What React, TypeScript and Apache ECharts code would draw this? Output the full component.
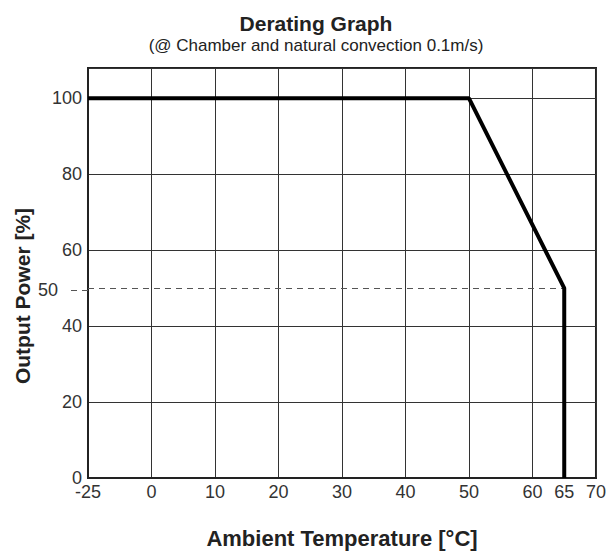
import React, { useEffect, useRef } from "react";
import * as echarts from "echarts";

const xCategories = ["-25", "-12.5", "0", "5", "10", "15", "20", "25", "30", "35", "40", "45", "50", "55", "60", "65", "70"];
const xLabelShown = ["-25", "0", "10", "20", "30", "40", "50", "60", "65", "70"];
const xGridAt = ["-25", "0", "10", "20", "30", "40", "50", "60", "70"];
const deratingTemps = ["-25", "50", "65", "65"];
const deratingPower = [100, 100, 50, 0];
const yLabels = [0, 20, 40, 60, 80, 100];
const yMarked = [50];

const FONT = "'Liberation Sans', Arial, sans-serif";
const GRID = { left: 88, right: 13, top: 68, bottom: 73 };

export default function App() {
  const ref = useRef<HTMLDivElement>(null);
  useEffect(() => {
    if (!ref.current) return;
    const chart = echarts.init(ref.current, null, { renderer: "svg" });
    const option = {
      animation: false,
      textStyle: { fontFamily: FONT },
      title: {
        text: "Derating Graph",
        subtext: "(@ Chamber and natural convection 0.1m/s)",
        left: 311,
        top: 8,
        textAlign: "center",
        itemGap: 3,
        textStyle: { fontFamily: FONT, fontSize: 21, fontWeight: "bold", color: "#222" },
        subtextStyle: { fontFamily: FONT, fontSize: 17, color: "#222" },
      },
      grid: [
        {
          ...GRID,
          show: true,
          borderColor: "#222",
          borderWidth: 2,
          backgroundColor: "transparent",
        },
        { ...GRID, show: false },
      ],
      xAxis: [
        {
          type: "category",
          gridIndex: 0,
          data: xCategories,
          boundaryGap: false,
          name: "Ambient Temperature [°C]",
          nameLocation: "middle",
          nameGap: 49,
          nameTextStyle: { fontFamily: FONT, fontSize: 22, fontWeight: "bold", color: "#222" },
          axisLine: { show: true, lineStyle: { color: "#222", width: 2 } },
          axisTick: { show: false },
          axisLabel: {
            interval: (idx: number, val: string) => xLabelShown.includes(val),
            margin: 5,
            fontFamily: FONT,
            fontSize: 18,
            color: "#333",
          },
          splitLine: {
            show: true,
            interval: (idx: number) => xGridAt.includes(xCategories[idx]),
            lineStyle: { color: "#333", width: 1 },
          },
        },
        {
          type: "category",
          gridIndex: 1,
          data: xCategories,
          boundaryGap: false,
          show: false,
        },
      ],
      yAxis: [
        {
          type: "value",
          gridIndex: 0,
          min: 0,
          max: 108,
          interval: 20,
          axisLine: { show: true, lineStyle: { color: "#222", width: 2 } },
          axisTick: { show: false },
          axisLabel: {
            customValues: yLabels,
            margin: 6,
            fontFamily: FONT,
            fontSize: 18,
            color: "#333",
          },
          splitLine: { show: true, lineStyle: { color: "#333", width: 1 } },
        },
        {
          type: "value",
          gridIndex: 1,
          min: 0,
          max: 108,
          position: "left",
          axisLine: { show: false },
          splitLine: { show: false },
          axisTick: {
            show: true,
            customValues: yMarked,
            length: 22,
            lineStyle: { color: "#555", width: 1, type: [6, 5] },
          },
          axisLabel: {
            customValues: yMarked,
            margin: 30,
            fontFamily: FONT,
            fontSize: 18,
            color: "#333",
          },
        },
      ],
      graphic: [
        {
          type: "text",
          x: 22,
          y: 296,
          rotation: Math.PI / 2,
          style: {
            text: "Output Power [%]",
            fontFamily: FONT,
            fontSize: 21,
            fontWeight: "bold",
            fill: "#222",
            align: "center",
            verticalAlign: "middle",
          },
        },
      ],
      series: [
        {
          type: "line",
          xAxisIndex: 0,
          yAxisIndex: 0,
          data: deratingTemps.map((t, i) => [t, deratingPower[i]]),
          symbol: "none",
          lineStyle: { color: "#000", width: 4 },
          z: 5,
          markLine: {
            silent: true,
            symbol: "none",
            label: { show: false },
            lineStyle: { color: "#555", width: 1, type: [6, 5] },
            data: [[{ coord: ["-25", 50] }, { coord: ["65", 50] }]],
          },
        },
      ],
    };
    chart.setOption(option as any);
    return () => chart.dispose();
  }, []);
  return (
    <div
      ref={ref}
      style={{ position: "fixed", left: 0, top: 0, width: 609, height: 554, background: "#fff" }}
    />
  );
}
